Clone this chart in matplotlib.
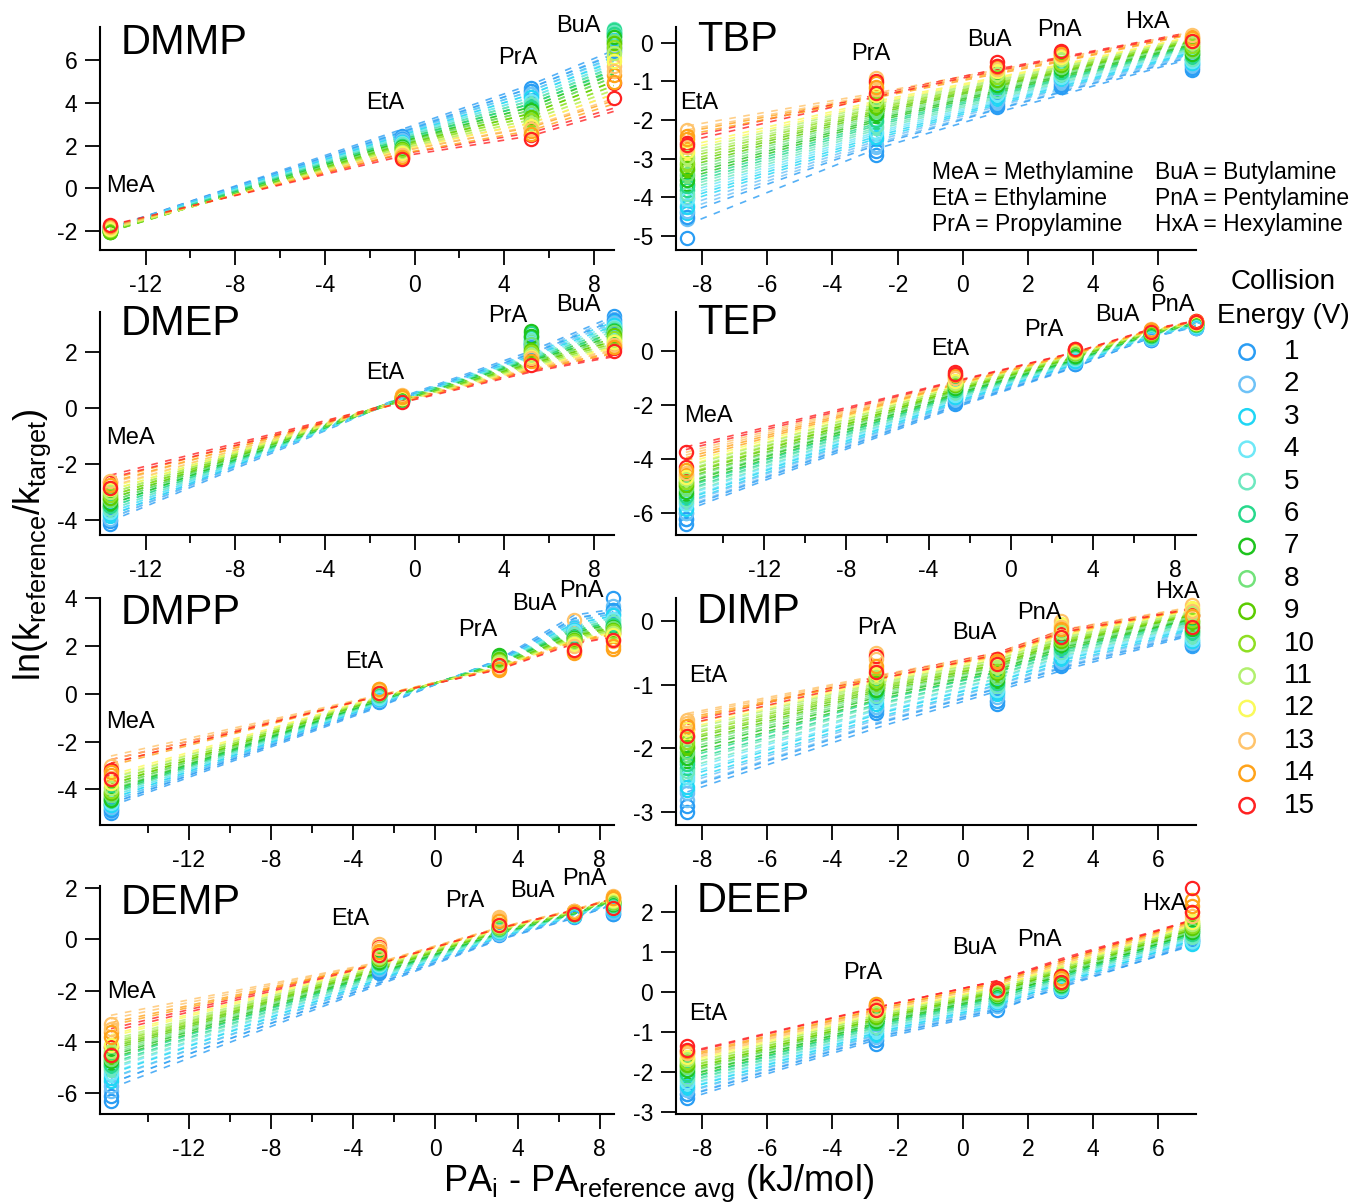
import numpy as np
import matplotlib.pyplot as plt
from matplotlib.ticker import FixedLocator, MultipleLocator

plt.rcParams['font.family'] = ['Liberation Sans', 'DejaVu Sans']
plt.rcParams['axes.unicode_minus'] = False

energies = list(range(1, 16))
energy_colors = ['#2a9df4', '#6ec2f7', '#1fd6f5', '#6ee8f7', '#6de8bf',
                 '#27d98c', '#1ec41e', '#72e27a', '#5ccc00', '#8fdf23',
                 '#b2f06e', '#fafa5a', '#ffc46b', '#ffa31a', '#ff2222']

# x positions: PA_i - PA_reference avg (kJ/mol) for each reference set
amines_me4 = ['MeA', 'EtA', 'PrA', 'BuA']
pa_me4 = [-13.58, -0.58, 5.2, 8.9]
amines_me5 = ['MeA', 'EtA', 'PrA', 'BuA', 'PnA']
pa_me5 = [-15.8, -2.77, 3.08, 6.75, 8.66]
pa_tep = [-15.8, -2.72, 3.1, 6.8, 8.98]
amines_et5 = ['EtA', 'PrA', 'BuA', 'PnA', 'HxA']
pa_et5 = [-8.45, -2.67, 1.05, 3.02, 7.03]

# measured ln(k_ref/k_target) (circles); rows = collision energy 1..15, replicates A, B
DMMP_A = [[-1.85, 2.45, 4.70, 6.55], [-1.88, 2.35, 4.55, 6.80], [-1.90, 2.25, 4.40, 7.10],
          [-1.92, 2.20, 4.25, 7.35], [-1.95, 2.10, 4.05, 7.45], [-1.98, 2.05, 3.90, 7.40],
          [-2.02, 2.00, 3.75, 7.25], [-2.00, 1.95, 3.60, 7.10], [-2.00, 1.90, 3.45, 6.95],
          [-1.98, 1.85, 3.30, 6.75], [-1.95, 1.80, 3.15, 6.50], [-1.90, 1.70, 3.00, 6.15],
          [-1.85, 1.60, 2.85, 5.70], [-1.80, 1.50, 2.70, 5.30], [-1.75, 1.40, 2.50, 4.90]]
DMMP_B = [[-1.80, 2.30, 4.55, 6.40], [-1.84, 2.25, 4.40, 6.65], [-1.86, 2.18, 4.25, 6.95],
          [-1.90, 2.12, 4.10, 7.20], [-1.93, 2.05, 3.95, 7.30], [-1.96, 1.98, 3.80, 7.20],
          [-2.05, 1.92, 3.65, 7.05], [-1.97, 1.88, 3.50, 6.90], [-2.05, 1.83, 3.35, 6.80],
          [-1.95, 1.78, 3.20, 6.60], [-1.92, 1.72, 3.05, 6.30], [-1.88, 1.65, 2.90, 5.95],
          [-1.82, 1.55, 2.75, 5.50], [-1.78, 1.45, 2.55, 4.95], [-1.72, 1.35, 2.30, 4.20]]

DMEP_A = [[-4.15, 0.30, 2.30, 3.30], [-4.00, 0.32, 2.35, 3.20], [-3.85, 0.33, 2.40, 3.10],
          [-3.75, 0.34, 2.50, 3.00], [-3.65, 0.35, 2.60, 2.95], [-3.55, 0.36, 2.70, 2.90],
          [-3.45, 0.37, 2.75, 2.85], [-3.35, 0.38, 2.40, 2.80], [-3.25, 0.39, 2.20, 2.70],
          [-3.15, 0.40, 2.10, 2.60], [-3.05, 0.42, 2.00, 2.50], [-2.95, 0.44, 1.95, 2.45],
          [-2.85, 0.46, 1.90, 2.35], [-3.55, 0.45, 1.85, 2.25], [-2.65, 0.28, 1.75, 2.15]]
DMEP_B = [[-4.05, 0.25, 2.20, 3.15], [-3.95, 0.27, 2.25, 3.05], [-3.80, 0.28, 2.30, 2.98],
          [-3.70, 0.29, 2.35, 2.92], [-3.60, 0.30, 2.45, 2.88], [-3.50, 0.31, 2.55, 2.82],
          [-3.40, 0.32, 2.60, 2.78], [-3.30, 0.33, 2.30, 2.72], [-3.20, 0.34, 2.10, 2.62],
          [-3.10, 0.35, 2.00, 2.52], [-3.00, 0.36, 1.90, 2.42], [-2.90, 0.38, 1.85, 2.38],
          [-2.60, 0.40, 1.80, 2.28], [-2.75, 0.42, 1.70, 2.18], [-2.85, 0.22, 1.55, 2.05]]

DMPP_A = [[-5.00, -0.35, 1.40, 2.70, 4.00], [-4.90, -0.30, 1.45, 2.80, 3.70], [-4.80, -0.25, 1.50, 2.75, 3.50],
          [-4.70, -0.20, 1.55, 2.70, 3.30], [-4.60, -0.15, 1.60, 2.55, 3.10], [-4.50, -0.10, 1.60, 2.45, 2.95],
          [-4.60, -0.05, 1.65, 2.40, 2.85], [-4.40, -0.05, 1.55, 2.35, 2.80], [-4.30, 0.00, 1.50, 2.30, 2.75],
          [-4.20, 0.00, 1.45, 2.25, 2.70], [-4.10, 0.05, 1.40, 2.20, 2.60], [-3.90, 0.10, 1.30, 2.15, 2.50],
          [-3.00, 0.15, 1.20, 3.10, 2.30], [-3.40, 0.20, 1.00, 1.70, 1.90], [-3.20, 0.10, 1.25, 2.40, 2.55]]
DMPP_B = [[-4.85, -0.30, 1.35, 2.65, 3.50], [-4.75, -0.25, 1.40, 2.72, 3.40], [-4.65, -0.20, 1.45, 2.68, 3.30],
          [-4.55, -0.15, 1.50, 2.62, 3.15], [-4.45, -0.10, 1.55, 2.50, 3.00], [-4.35, -0.05, 1.55, 2.40, 2.90],
          [-4.45, 0.00, 1.60, 2.35, 2.80], [-4.25, 0.00, 1.50, 2.30, 2.75], [-4.15, 0.05, 1.45, 2.25, 2.70],
          [-4.05, 0.05, 1.40, 2.20, 2.65], [-3.95, 0.10, 1.35, 2.15, 2.55], [-3.75, 0.12, 1.25, 2.10, 2.45],
          [-3.50, 0.18, 1.10, 2.00, 2.20], [-3.25, 0.22, 1.05, 1.80, 2.00], [-3.55, 0.05, 1.20, 1.85, 2.25]]

DEMP_A = [[-6.30, -1.30, 0.20, 0.90, 1.00], [-5.90, -1.20, 0.25, 0.92, 1.10], [-5.50, -1.10, 0.30, 0.95, 1.20],
          [-5.30, -1.05, 0.35, 0.95, 1.25], [-5.10, -1.00, 0.40, 0.98, 1.30], [-4.95, -0.95, 0.40, 1.00, 1.35],
          [-4.80, -0.90, 0.45, 1.00, 1.40], [-4.70, -0.85, 0.45, 1.00, 1.42], [-4.60, -0.80, 0.50, 1.02, 1.45],
          [-4.50, -0.75, 0.50, 1.02, 1.48], [-4.40, -0.70, 0.55, 1.03, 1.50], [-4.20, -0.60, 0.60, 1.04, 1.55],
          [-3.30, -0.20, 0.85, 1.10, 1.70], [-3.60, -0.45, 0.75, 1.08, 1.65], [-4.20, -0.30, 0.60, 1.05, 1.50]]
DEMP_B = [[-6.10, -1.25, 0.18, 0.88, 0.98], [-5.70, -1.15, 0.22, 0.90, 1.05], [-5.40, -1.08, 0.28, 0.92, 1.15],
          [-5.20, -1.02, 0.32, 0.94, 1.22], [-5.00, -0.98, 0.36, 0.96, 1.28], [-4.90, -0.92, 0.38, 0.98, 1.32],
          [-4.75, -0.88, 0.42, 0.99, 1.36], [-4.65, -0.82, 0.44, 1.00, 1.40], [-4.55, -0.78, 0.48, 1.01, 1.43],
          [-4.45, -0.72, 0.49, 1.01, 1.46], [-4.35, -0.68, 0.52, 1.02, 1.48], [-4.10, -0.58, 0.58, 1.03, 1.52],
          [-3.50, -0.35, 0.80, 1.08, 1.60], [-3.80, -0.50, 0.70, 1.06, 1.62], [-4.50, -0.60, 0.55, 1.00, 1.20]]

TBP_A = [[-5.05, -2.90, -1.65, -1.15, -0.70], [-4.55, -2.70, -1.55, -1.05, -0.60], [-4.40, -2.50, -1.45, -0.95, -0.55],
         [-4.20, -2.35, -1.35, -0.90, -0.50], [-4.00, -2.20, -1.30, -0.85, -0.45], [-3.80, -2.05, -1.20, -0.80, -0.40],
         [-3.65, -1.90, -1.10, -0.70, -0.30], [-3.45, -1.80, -1.05, -0.65, -0.25], [-3.30, -1.70, -1.00, -0.60, -0.20],
         [-3.15, -1.60, -0.90, -0.55, -0.10], [-3.00, -1.50, -0.85, -0.45, -0.05], [-2.85, -1.40, -0.75, -0.40, 0.05],
         [-2.25, -0.90, -0.65, -0.35, 0.10], [-2.40, -1.05, -0.60, -0.30, 0.15], [-2.60, -1.00, -0.50, -0.25, 0.00]]
TBP_B = [[-4.50, -2.80, -1.60, -1.10, -0.65], [-4.35, -2.65, -1.50, -1.00, -0.58], [-4.25, -2.45, -1.40, -0.92, -0.52],
         [-4.05, -2.30, -1.32, -0.88, -0.48], [-3.90, -2.15, -1.25, -0.82, -0.42], [-3.70, -2.00, -1.15, -0.75, -0.35],
         [-3.55, -1.85, -1.08, -0.68, -0.28], [-3.40, -1.75, -1.02, -0.62, -0.22], [-3.25, -1.65, -0.95, -0.58, -0.15],
         [-3.10, -1.55, -0.88, -0.52, -0.08], [-2.95, -1.45, -0.80, -0.42, 0.00], [-2.80, -1.35, -0.72, -0.38, 0.08],
         [-2.70, -1.20, -0.68, -0.32, 0.20], [-2.50, -1.15, -0.62, -0.28, 0.12], [-2.65, -1.30, -0.60, -0.20, 0.05]]

TEP_A = [[-6.40, -1.95, -0.50, 0.40, 0.85], [-6.20, -1.85, -0.45, 0.45, 0.88], [-6.00, -1.75, -0.40, 0.48, 0.90],
         [-5.80, -1.65, -0.35, 0.50, 0.92], [-5.60, -1.55, -0.30, 0.55, 0.95], [-5.45, -1.50, -0.25, 0.58, 0.97],
         [-5.30, -1.40, -0.20, 0.60, 1.00], [-5.15, -1.35, -0.15, 0.62, 1.00], [-5.00, -1.30, -0.12, 0.65, 1.02],
         [-4.90, -1.25, -0.10, 0.67, 1.03], [-4.80, -1.20, -0.05, 0.70, 1.05], [-4.70, -1.15, -0.02, 0.72, 1.05],
         [-4.90, -1.00, 0.00, 0.80, 1.10], [-4.60, -0.95, 0.02, 0.78, 1.08], [-4.30, -0.80, 0.05, 0.75, 1.10]]
TEP_B = [[-6.20, -1.90, -0.48, 0.38, 0.82], [-6.00, -1.80, -0.42, 0.42, 0.85], [-5.85, -1.70, -0.38, 0.46, 0.88],
         [-5.65, -1.62, -0.32, 0.49, 0.90], [-5.50, -1.52, -0.28, 0.52, 0.93], [-5.35, -1.45, -0.22, 0.56, 0.95],
         [-5.20, -1.38, -0.18, 0.58, 0.98], [-5.05, -1.32, -0.14, 0.61, 0.99], [-4.95, -1.27, -0.10, 0.63, 1.00],
         [-4.85, -1.22, -0.08, 0.66, 1.02], [-4.75, -1.18, -0.04, 0.68, 1.03], [-4.65, -1.12, -0.01, 0.70, 1.04],
         [-4.50, -1.00, 0.02, 0.76, 1.06], [-4.40, -0.90, 0.03, 0.77, 1.07], [-3.75, -0.85, 0.08, 0.70, 1.05]]

DIMP_A = [[-3.00, -1.45, -1.30, -0.70, -0.40], [-2.80, -1.40, -1.25, -0.65, -0.38], [-2.65, -1.35, -1.15, -0.60, -0.35],
          [-2.50, -1.25, -1.10, -0.55, -0.30], [-2.40, -1.20, -1.05, -0.50, -0.25], [-2.30, -1.15, -1.00, -0.45, -0.20],
          [-2.20, -1.10, -0.95, -0.40, -0.15], [-2.10, -1.05, -0.90, -0.38, -0.10], [-2.00, -1.00, -0.85, -0.35, -0.05],
          [-1.95, -0.95, -0.80, -0.30, 0.00], [-1.85, -0.90, -0.75, -0.20, 0.10], [-1.75, -0.85, -0.70, -0.05, 0.20],
          [-1.60, -0.50, -0.60, 0.00, 0.25], [-1.80, -0.75, -0.65, -0.15, 0.10], [-1.70, -0.55, -0.60, -0.20, 0.10]]
DIMP_B = [[-2.90, -1.40, -1.25, -0.68, -0.38], [-2.70, -1.35, -1.20, -0.62, -0.35], [-2.60, -1.30, -1.12, -0.58, -0.32],
          [-2.45, -1.22, -1.08, -0.52, -0.28], [-2.35, -1.18, -1.02, -0.48, -0.22], [-2.25, -1.12, -0.98, -0.42, -0.18],
          [-2.15, -1.08, -0.92, -0.38, -0.12], [-2.05, -1.02, -0.88, -0.35, -0.08], [-1.98, -0.98, -0.82, -0.32, -0.02],
          [-1.90, -0.92, -0.78, -0.28, 0.02], [-1.82, -0.88, -0.72, -0.18, 0.12], [-1.70, -0.82, -0.68, -0.08, 0.18],
          [-1.55, -0.60, -0.62, -0.10, 0.15], [-1.65, -0.70, -0.62, -0.12, 0.08], [-1.80, -0.80, -0.68, -0.25, -0.10]]

DEEP_A = [[-2.65, -1.30, -0.45, 0.05, 1.35], [-2.55, -1.20, -0.35, 0.08, 1.30], [-2.40, -1.10, -0.30, 0.10, 1.25],
          [-2.30, -1.00, -0.25, 0.12, 1.30], [-2.20, -0.90, -0.20, 0.15, 1.40], [-2.10, -0.80, -0.15, 0.18, 1.50],
          [-2.00, -0.75, -0.10, 0.20, 1.55], [-1.90, -0.70, -0.08, 0.22, 1.60], [-1.85, -0.65, -0.05, 0.25, 1.65],
          [-1.80, -0.60, -0.03, 0.28, 1.70], [-1.70, -0.55, 0.00, 0.30, 1.75], [-1.65, -0.50, 0.00, 0.32, 1.80],
          [-1.55, -0.30, 0.05, 0.35, 2.00], [-1.50, -0.35, 0.05, 0.40, 2.30], [-1.35, -0.35, 0.10, 0.40, 2.60]]
DEEP_B = [[-2.55, -1.20, -0.30, 0.02, 1.30], [-2.45, -1.12, -0.28, 0.06, 1.25], [-2.35, -1.05, -0.25, 0.08, 1.22],
          [-2.25, -0.95, -0.22, 0.10, 1.28], [-2.15, -0.88, -0.18, 0.13, 1.38], [-2.05, -0.78, -0.14, 0.16, 1.45],
          [-1.95, -0.72, -0.10, 0.18, 1.50], [-1.88, -0.68, -0.07, 0.20, 1.55], [-1.82, -0.62, -0.04, 0.23, 1.60],
          [-1.76, -0.58, -0.02, 0.26, 1.65], [-1.68, -0.52, 0.01, 0.28, 1.70], [-1.62, -0.48, 0.02, 0.30, 1.75],
          [-1.52, -0.40, 0.03, 0.33, 1.90], [-1.48, -0.30, 0.06, 0.35, 2.15], [-1.45, -0.45, 0.05, 0.25, 2.00]]

# dashed fit lines, read at each amine position; two sets per panel (L1, L2)
DMMP_L1 = [[-1.88, 2.75, 4.85, 6.45], [-1.90, 2.68, 4.70, 6.30], [-1.92, 2.60, 4.55, 6.15],
           [-1.94, 2.52, 4.40, 6.00], [-1.96, 2.45, 4.25, 5.85], [-1.98, 2.38, 4.10, 5.70],
           [-2.02, 2.30, 3.95, 5.55], [-2.00, 2.22, 3.80, 5.40], [-2.02, 2.15, 3.65, 5.20],
           [-2.00, 2.08, 3.50, 5.00], [-1.97, 2.00, 3.35, 4.80], [-1.93, 1.92, 3.20, 4.60],
           [-1.88, 1.85, 3.05, 4.40], [-1.82, 1.75, 2.85, 4.10], [-1.75, 1.60, 2.60, 3.75]]
DMMP_L2 = [[-1.84, 2.62, 4.70, 6.25], [-1.86, 2.55, 4.55, 6.10], [-1.88, 2.48, 4.40, 5.95],
           [-1.90, 2.40, 4.25, 5.80], [-1.92, 2.33, 4.10, 5.65], [-1.94, 2.26, 3.95, 5.50],
           [-1.98, 2.18, 3.80, 5.35], [-1.96, 2.10, 3.65, 5.20], [-1.98, 2.03, 3.50, 5.00],
           [-1.96, 1.96, 3.35, 4.80], [-1.93, 1.88, 3.20, 4.60], [-1.89, 1.80, 3.05, 4.40],
           [-1.84, 1.73, 2.90, 4.20], [-1.78, 1.63, 2.70, 3.95], [-1.72, 1.50, 2.45, 3.60]]

DMEP_L1 = [[-3.95, 0.40, 2.05, 3.30], [-3.85, 0.39, 2.00, 3.20], [-3.75, 0.38, 1.95, 3.10],
           [-3.65, 0.37, 1.90, 3.00], [-3.55, 0.36, 1.85, 2.90], [-3.45, 0.35, 1.80, 2.80],
           [-3.35, 0.34, 1.75, 2.70], [-3.25, 0.33, 1.70, 2.60], [-3.15, 0.32, 1.65, 2.50],
           [-3.05, 0.31, 1.60, 2.40], [-2.95, 0.30, 1.55, 2.30], [-2.85, 0.29, 1.50, 2.20],
           [-2.70, 0.28, 1.45, 2.10], [-2.55, 0.27, 1.40, 2.00], [-2.40, 0.25, 1.35, 1.90]]
DMEP_L2 = [[-4.05, 0.35, 1.95, 3.15], [-3.95, 0.34, 1.90, 3.05], [-3.85, 0.33, 1.86, 2.95],
           [-3.75, 0.32, 1.82, 2.85], [-3.65, 0.31, 1.78, 2.75], [-3.55, 0.30, 1.74, 2.66],
           [-3.45, 0.29, 1.70, 2.57], [-3.35, 0.28, 1.65, 2.48], [-3.25, 0.27, 1.60, 2.40],
           [-3.15, 0.26, 1.55, 2.32], [-3.05, 0.25, 1.50, 2.24], [-2.95, 0.24, 1.45, 2.16],
           [-2.80, 0.23, 1.40, 2.06], [-2.65, 0.22, 1.36, 1.96], [-2.50, 0.20, 1.30, 1.85]]

DMPP_L1 = [[-4.70, -0.55, 1.44, 3.30, 3.55], [-4.60, -0.50, 1.42, 3.18, 3.45], [-4.50, -0.46, 1.40, 3.06, 3.36],
           [-4.40, -0.42, 1.38, 2.95, 3.27], [-4.30, -0.38, 1.36, 2.85, 3.18], [-4.20, -0.34, 1.33, 2.75, 3.09],
           [-4.15, -0.30, 1.30, 2.66, 3.00], [-4.00, -0.27, 1.27, 2.58, 2.92], [-3.90, -0.24, 1.24, 2.50, 2.84],
           [-3.78, -0.21, 1.21, 2.43, 2.76], [-3.65, -0.18, 1.18, 2.36, 2.68], [-3.50, -0.15, 1.15, 2.30, 2.60],
           [-2.60, -0.05, 1.08, 2.20, 2.48], [-2.90, -0.08, 1.10, 2.25, 2.52], [-2.75, -0.10, 1.05, 2.15, 2.42]]
DMPP_L2 = [[-4.60, -0.50, 1.40, 3.15, 3.45], [-4.50, -0.46, 1.38, 3.05, 3.36], [-4.40, -0.42, 1.36, 2.94, 3.27],
           [-4.30, -0.38, 1.34, 2.84, 3.19], [-4.20, -0.34, 1.32, 2.75, 3.10], [-4.10, -0.30, 1.29, 2.66, 3.02],
           [-4.05, -0.27, 1.26, 2.58, 2.94], [-3.90, -0.24, 1.23, 2.50, 2.86], [-3.80, -0.21, 1.20, 2.43, 2.78],
           [-3.68, -0.18, 1.17, 2.37, 2.70], [-3.55, -0.15, 1.14, 2.31, 2.63], [-3.40, -0.12, 1.11, 2.25, 2.56],
           [-2.75, -0.06, 1.05, 2.16, 2.45], [-3.00, -0.09, 1.07, 2.20, 2.48], [-2.90, -0.08, 1.02, 2.10, 2.38]]

DEMP_L1 = [[-5.80, -1.78, -0.03, 0.82, 1.34], [-5.60, -1.70, 0.02, 0.86, 1.37], [-5.40, -1.62, 0.06, 0.89, 1.40],
           [-5.20, -1.55, 0.10, 0.92, 1.42], [-5.00, -1.48, 0.14, 0.95, 1.44], [-4.82, -1.41, 0.18, 0.97, 1.46],
           [-4.64, -1.34, 0.22, 0.99, 1.48], [-4.46, -1.28, 0.25, 1.01, 1.50], [-4.30, -1.22, 0.28, 1.03, 1.52],
           [-4.15, -1.16, 0.31, 1.05, 1.54], [-4.00, -1.10, 0.34, 1.07, 1.55], [-3.80, -1.04, 0.37, 1.09, 1.56],
           [-2.96, -0.90, 0.45, 1.15, 1.60], [-3.25, -0.95, 0.42, 1.12, 1.58], [-3.48, -0.94, 0.43, 1.13, 1.59]]
DEMP_L2 = [[-5.60, -1.72, 0.00, 0.84, 1.35], [-5.42, -1.64, 0.04, 0.87, 1.38], [-5.24, -1.57, 0.08, 0.90, 1.40],
           [-5.06, -1.50, 0.12, 0.93, 1.43], [-4.88, -1.43, 0.16, 0.96, 1.45], [-4.70, -1.36, 0.20, 0.98, 1.47],
           [-4.54, -1.30, 0.23, 1.00, 1.49], [-4.38, -1.24, 0.26, 1.02, 1.51], [-4.22, -1.18, 0.29, 1.04, 1.52],
           [-4.07, -1.12, 0.32, 1.06, 1.54], [-3.92, -1.06, 0.35, 1.08, 1.55], [-3.72, -1.00, 0.38, 1.10, 1.56],
           [-3.10, -0.92, 0.44, 1.14, 1.59], [-3.35, -0.96, 0.41, 1.11, 1.57], [-3.60, -0.97, 0.42, 1.12, 1.58]]

TBP_L1 = [[-4.70, -2.75, -1.80, -1.35, -0.40], [-4.30, -2.60, -1.70, -1.25, -0.33], [-4.10, -2.48, -1.60, -1.17, -0.28],
          [-3.95, -2.36, -1.52, -1.10, -0.23], [-3.80, -2.25, -1.44, -1.03, -0.18], [-3.65, -2.14, -1.36, -0.96, -0.13],
          [-3.50, -2.03, -1.28, -0.90, -0.08], [-3.35, -1.93, -1.20, -0.83, -0.03], [-3.20, -1.83, -1.13, -0.77, 0.02],
          [-3.05, -1.74, -1.06, -0.71, 0.06], [-2.90, -1.65, -0.99, -0.65, 0.10], [-2.75, -1.56, -0.92, -0.59, 0.14],
          [-2.15, -1.30, -0.70, -0.40, 0.28], [-2.30, -1.38, -0.76, -0.46, 0.24], [-2.45, -1.35, -0.68, -0.37, 0.28]]
TBP_L2 = [[-4.40, -2.65, -1.72, -1.28, -0.36], [-4.20, -2.54, -1.64, -1.20, -0.30], [-4.02, -2.42, -1.56, -1.13, -0.25],
          [-3.87, -2.31, -1.48, -1.06, -0.20], [-3.72, -2.20, -1.40, -0.99, -0.15], [-3.57, -2.09, -1.32, -0.93, -0.10],
          [-3.42, -1.98, -1.24, -0.86, -0.05], [-3.27, -1.88, -1.17, -0.80, 0.00], [-3.12, -1.78, -1.10, -0.74, 0.04],
          [-2.97, -1.69, -1.03, -0.68, 0.08], [-2.82, -1.60, -0.96, -0.62, 0.12], [-2.67, -1.51, -0.89, -0.56, 0.16],
          [-2.25, -1.35, -0.74, -0.43, 0.26], [-2.38, -1.42, -0.80, -0.49, 0.22], [-2.55, -1.40, -0.72, -0.40, 0.25]]

TEP_L1 = [[-5.90, -2.10, -0.62, 0.50, 0.90], [-5.75, -2.02, -0.57, 0.53, 0.92], [-5.60, -1.94, -0.52, 0.55, 0.94],
          [-5.45, -1.86, -0.47, 0.58, 0.96], [-5.30, -1.79, -0.43, 0.60, 0.98], [-5.15, -1.72, -0.39, 0.62, 1.00],
          [-5.00, -1.65, -0.35, 0.64, 1.01], [-4.85, -1.58, -0.31, 0.66, 1.02], [-4.70, -1.51, -0.27, 0.68, 1.03],
          [-4.55, -1.45, -0.23, 0.70, 1.04], [-4.40, -1.39, -0.19, 0.72, 1.05], [-4.25, -1.33, -0.15, 0.74, 1.06],
          [-3.75, -1.18, -0.08, 0.78, 1.09], [-3.95, -1.22, -0.11, 0.77, 1.08], [-3.55, -1.12, -0.06, 0.80, 1.10]]
TEP_L2 = [[-5.80, -2.05, -0.60, 0.48, 0.88], [-5.65, -1.97, -0.55, 0.51, 0.90], [-5.50, -1.89, -0.50, 0.53, 0.92],
          [-5.35, -1.81, -0.45, 0.56, 0.94], [-5.20, -1.74, -0.41, 0.58, 0.96], [-5.05, -1.67, -0.37, 0.60, 0.98],
          [-4.90, -1.60, -0.33, 0.62, 0.99], [-4.75, -1.53, -0.29, 0.64, 1.00], [-4.60, -1.46, -0.25, 0.66, 1.01],
          [-4.45, -1.40, -0.21, 0.68, 1.02], [-4.30, -1.34, -0.17, 0.70, 1.03], [-4.15, -1.28, -0.13, 0.72, 1.04],
          [-3.85, -1.20, -0.09, 0.76, 1.07], [-4.05, -1.25, -0.12, 0.75, 1.06], [-3.65, -1.15, -0.07, 0.78, 1.08]]

DIMP_L1 = [[-2.68, -1.68, -1.10, -0.78, -0.22], [-2.60, -1.60, -1.05, -0.72, -0.18], [-2.50, -1.52, -1.00, -0.66, -0.14],
           [-2.40, -1.45, -0.95, -0.60, -0.10], [-2.30, -1.38, -0.90, -0.55, -0.06], [-2.20, -1.31, -0.85, -0.50, -0.02],
           [-2.10, -1.24, -0.80, -0.45, 0.02], [-2.00, -1.17, -0.76, -0.40, 0.05], [-1.92, -1.11, -0.72, -0.36, 0.08],
           [-1.84, -1.05, -0.68, -0.32, 0.10], [-1.76, -1.00, -0.64, -0.28, 0.13], [-1.68, -0.96, -0.60, -0.24, 0.16],
           [-1.45, -0.86, -0.50, -0.14, 0.22], [-1.52, -0.90, -0.53, -0.18, 0.19], [-1.58, -0.88, -0.50, -0.15, 0.20]]
DIMP_L2 = [[-2.62, -1.62, -1.06, -0.74, -0.20], [-2.54, -1.55, -1.01, -0.68, -0.16], [-2.44, -1.47, -0.96, -0.62, -0.12],
           [-2.34, -1.40, -0.91, -0.57, -0.08], [-2.24, -1.33, -0.86, -0.52, -0.04], [-2.14, -1.26, -0.81, -0.47, 0.00],
           [-2.04, -1.20, -0.77, -0.42, 0.03], [-1.95, -1.14, -0.73, -0.38, 0.06], [-1.87, -1.08, -0.69, -0.34, 0.09],
           [-1.79, -1.03, -0.65, -0.30, 0.11], [-1.71, -0.98, -0.61, -0.26, 0.14], [-1.63, -0.94, -0.57, -0.22, 0.17],
           [-1.48, -0.88, -0.52, -0.16, 0.21], [-1.55, -0.91, -0.55, -0.20, 0.18], [-1.62, -0.92, -0.53, -0.18, 0.19]]

DEEP_L1 = [[-2.67, -1.19, -0.47, 0.16, 1.17], [-2.58, -1.12, -0.41, 0.21, 1.22], [-2.49, -1.06, -0.35, 0.26, 1.27],
           [-2.40, -1.00, -0.30, 0.31, 1.32], [-2.32, -0.94, -0.24, 0.36, 1.37], [-2.24, -0.88, -0.18, 0.41, 1.42],
           [-2.16, -0.82, -0.12, 0.46, 1.47], [-2.08, -0.77, -0.07, 0.51, 1.52], [-2.00, -0.72, -0.02, 0.56, 1.56],
           [-1.93, -0.67, 0.03, 0.61, 1.60], [-1.86, -0.62, 0.08, 0.65, 1.64], [-1.79, -0.57, 0.13, 0.69, 1.68],
           [-1.70, -0.50, 0.19, 0.74, 1.73], [-1.62, -0.45, 0.24, 0.79, 1.77], [-1.53, -0.39, 0.29, 0.84, 1.81]]
DEEP_L2 = [[-2.60, -1.14, -0.43, 0.12, 1.20], [-2.51, -1.08, -0.37, 0.17, 1.25], [-2.42, -1.02, -0.31, 0.22, 1.30],
           [-2.34, -0.96, -0.26, 0.27, 1.35], [-2.26, -0.90, -0.20, 0.32, 1.40], [-2.18, -0.84, -0.14, 0.37, 1.45],
           [-2.10, -0.78, -0.09, 0.42, 1.49], [-2.02, -0.73, -0.04, 0.47, 1.53], [-1.95, -0.68, 0.01, 0.52, 1.57],
           [-1.88, -0.63, 0.05, 0.56, 1.61], [-1.81, -0.58, 0.10, 0.60, 1.65], [-1.74, -0.54, 0.14, 0.64, 1.69],
           [-1.66, -0.48, 0.20, 0.70, 1.73], [-1.58, -0.43, 0.24, 0.75, 1.77], [-1.50, -0.38, 0.28, 0.80, 1.80]]

# where each amine name is written (data coords)
DMMP_lab = [(-12.67, 0.1), (-1.3, 4.0), (4.6, 6.1), (7.3, 7.6)]
DMEP_lab = [(-12.67, -1.08), (-1.3, 1.26), (4.15, 3.3), (7.3, 3.7)]
DMPP_lab = [(-14.85, -1.17), (-3.47, 1.33), (2.05, 2.66), (4.82, 3.78), (7.1, 4.3)]
DEMP_lab = [(-14.8, -2.06), (-4.14, 0.8), (1.44, 1.5), (4.7, 1.88), (7.27, 2.34)]
TBP_lab = [(-8.09, -1.55), (-2.82, -0.28), (0.82, 0.06), (2.95, 0.32), (5.66, 0.53)]
TEP_lab = [(-14.7, -2.42), (-2.95, 0.07), (1.62, 0.75), (5.18, 1.3), (7.86, 1.68)]
DIMP_lab = [(-7.81, -0.87), (-2.63, -0.11), (0.36, -0.19), (2.36, 0.13), (6.59, 0.46)]
DEEP_lab = [(-7.81, -0.55), (-3.07, 0.49), (0.36, 1.1), (2.36, 1.31), (6.17, 2.22)]

ticks_me = ([-12, -8, -4, 0, 4, 8], [-14, -10, -6, -2, 2, 6])
ticks_me4 = ([-12, -8, -4, 0, 4, 8], [-10, -6, -2, 2, 6])
ticks_et = ([-8, -6, -4, -2, 0, 2, 4, 6], [])

fig = plt.figure(figsize=(13.52, 12.03), dpi=100)

cols = {'L': (0.0740, 0.3802), 'R': (0.5000, 0.3846)}
rows = [(0.7922, 0.1854), (0.5553, 0.1854), (0.3142, 0.1887), (0.0740, 0.1895)]


def draw_panel(name, col, row, amines, pa, circles, lines, labels, xlim, xticks, ylim, ystep, title_y):
    x0, w = cols[col]
    y0, h = rows[row]
    ax = fig.add_axes([x0, y0, w, h])
    for rep in lines:
        for i, e in enumerate(energies):
            ax.plot(pa, rep[i], ls=(0, (4, 4.5)), lw=1.2, color=energy_colors[i], alpha=0.8)
    for rep in circles:
        for i, e in enumerate(energies):
            ax.plot(pa, rep[i], 'o', ls='none', mfc='none', mec=energy_colors[i],
                    ms=9.5, mew=1.6, clip_on=False, zorder=3)
    for name_a, (lx, ly) in zip(amines, labels):
        ax.text(lx, ly, name_a, fontsize=17, ha='center', va='center', clip_on=False)
    ax.text(0.04, title_y, name, transform=ax.transAxes, fontsize=30, ha='left', va='center')

    ax.set_xlim(*xlim)
    ax.xaxis.set_major_locator(FixedLocator(xticks[0]))
    ax.xaxis.set_minor_locator(FixedLocator(xticks[1]))
    ax.set_ylim(*ylim)
    ax.yaxis.set_major_locator(MultipleLocator(ystep))

    for s in ['top', 'right']:
        ax.spines[s].set_visible(False)
    for s in ['left', 'bottom']:
        ax.spines[s].set_linewidth(1.5)
    ax.tick_params(axis='both', which='major', direction='out', length=10.5, width=1.3,
                   labelsize=16.5, pad=6)
    ax.tick_params(axis='x', which='major', pad=7)
    ax.tick_params(axis='x', which='minor', direction='out', length=6, width=1.3)
    return ax


draw_panel('DMMP', 'L', 0, amines_me4, pa_me4, [DMMP_A, DMMP_B], [DMMP_L1, DMMP_L2], DMMP_lab,
           (-14.03, 8.9), ticks_me4, (-2.88, 7.54), 2, 0.929)
draw_panel('DMEP', 'L', 1, amines_me4, pa_me4, [DMEP_A, DMEP_B], [DMEP_L1, DMEP_L2], DMEP_lab,
           (-14.03, 8.9), ticks_me4, (-4.54, 3.45), 2, 0.946)
draw_panel('DMPP', 'L', 2, amines_me5, pa_me5, [DMPP_A, DMPP_B], [DMPP_L1, DMPP_L2], DMPP_lab,
           (-16.33, 8.7), ticks_me, (-5.49, 4.02), 2, 0.934)
draw_panel('DEMP', 'L', 3, amines_me5, pa_me5, [DEMP_A, DEMP_B], [DEMP_L1, DEMP_L2], DEMP_lab,
           (-16.33, 8.7), ticks_me, (-6.8, 2.07), 2, 0.926)
draw_panel('TBP', 'R', 0, amines_et5, pa_et5, [TBP_A, TBP_B], [TBP_L1, TBP_L2], TBP_lab,
           (-8.8, 7.15), ticks_et, (-5.36, 0.41), 1, 0.94)
draw_panel('TEP', 'R', 1, amines_me5, pa_tep, [TEP_A, TEP_B], [TEP_L1, TEP_L2], TEP_lab,
           (-16.28, 9.0), ticks_me, (-6.8, 1.43), 2, 0.95)
draw_panel('DIMP', 'R', 2, amines_et5, pa_et5, [DIMP_A, DIMP_B], [DIMP_L1, DIMP_L2], DIMP_lab,
           (-8.8, 7.15), ticks_et, (-3.2, 0.36), 1, 0.938)
draw_panel('DEEP', 'R', 3, amines_et5, pa_et5, [DEEP_A, DEEP_B], [DEEP_L1, DEEP_L2], DEEP_lab,
           (-8.8, 7.15), ticks_et, (-3.05, 2.66), 1, 0.933)

# amine abbreviation key
key_left = ['MeA = Methylamine', 'EtA = Ethylamine', 'PrA = Propylamine']
key_right = ['BuA = Butylamine', 'PnA = Pentylamine', 'HxA = Hexylamine']
for k, (a, b) in enumerate(zip(key_left, key_right)):
    yy = 1 - (172 + 26 * k) / 1203
    fig.text(0.689, yy, a, fontsize=16.5, ha='left', va='center')
    fig.text(0.854, yy, b, fontsize=16.5, ha='left', va='center')

# collision energy legend
fig.text(1283 / 1352, 1 - 282 / 1203, 'Collision', fontsize=20, ha='center', va='center')
fig.text(1283 / 1352, 1 - 316 / 1203, 'Energy (V)', fontsize=20, ha='center', va='center')
lax = fig.add_axes([1230 / 1352, 1 - 830 / 1203, 122 / 1352, 570 / 1203])
lax.set_xlim(0, 1)
lax.set_ylim(15.75, -1.84)
lax.axis('off')
lax.scatter(np.full(len(energies), 0.14), energies, s=121, facecolors='none',
            edgecolors=energy_colors, linewidths=1.8)
for e in energies:
    lax.text(0.44, e, str(e), fontsize=20, ha='left', va='center')

fig.text(0.024, 0.547, r'ln(k$_\mathregular{reference}$/k$_\mathregular{target}$)',
         rotation=90, fontsize=26, ha='center', va='center')
fig.text(0.487, 0.01, r'PA$_\mathregular{i}$ - PA$_\mathregular{reference\ avg}$ (kJ/mol)',
         fontsize=26, ha='center', va='baseline')

fig.savefig('out.png', dpi=100)
